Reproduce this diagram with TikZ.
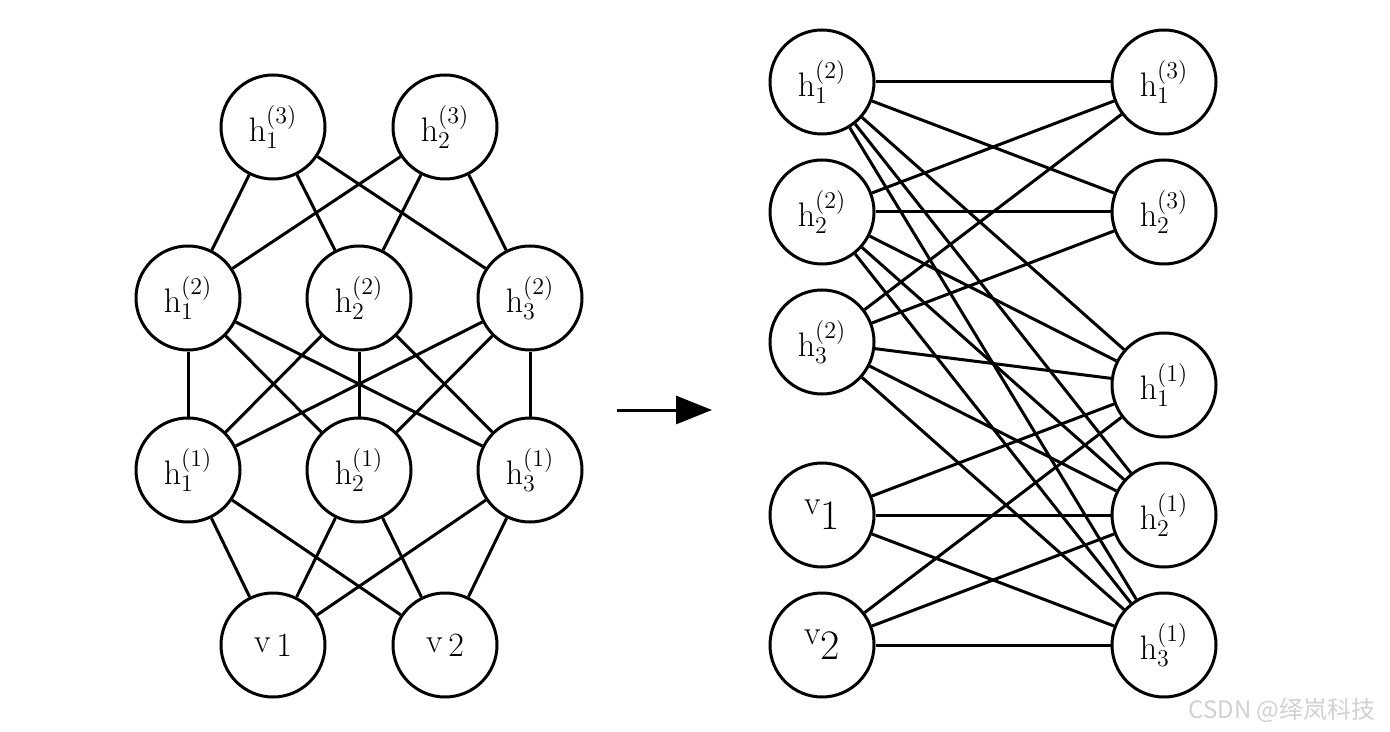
\documentclass[tikz,border=0pt]{standalone}
\usepackage{fontspec}
\usetikzlibrary{arrows.meta}
\newfontfamily\cjkfont{Noto Sans CJK SC}
\begin{document}
\begin{tikzpicture}[x=0.5pt,y=-0.5pt,
  unit/.style={circle,draw=black,line width=1.5pt,minimum size=52pt,inner sep=0pt,font=\fontsize{17}{20}\selectfont},
  edge/.style={line width=1.5pt,black}]
\useasboundingbox (0,0) rectangle (1390,732);
% left graph
\node[unit] (a31) at (273,127) {$\mathrm{h}_1^{(3)}$};
\node[unit] (a32) at (445,127) {$\mathrm{h}_2^{(3)}$};
\node[unit] (a21) at (188,298) {$\mathrm{h}_1^{(2)}$};
\node[unit] (a22) at (359,298) {$\mathrm{h}_2^{(2)}$};
\node[unit] (a23) at (530,298) {$\mathrm{h}_3^{(2)}$};
\node[unit] (a11) at (188,470) {$\mathrm{h}_1^{(1)}$};
\node[unit] (a12) at (359,470) {$\mathrm{h}_2^{(1)}$};
\node[unit] (a13) at (530,470) {$\mathrm{h}_3^{(1)}$};
\node[unit] (av1) at (273,645) {v\,\raisebox{-0.25ex}{1}};
\node[unit] (av2) at (445,645) {v\,\raisebox{-0.25ex}{2}};
\foreach \t in {a31,a32}{\foreach \m in {a21,a22,a23}{\draw[edge] (\t) -- (\m);}}
\foreach \t in {a21,a22,a23}{\foreach \m in {a11,a12,a13}{\draw[edge] (\t) -- (\m);}}
\foreach \t in {a11,a12,a13}{\foreach \m in {av1,av2}{\draw[edge] (\t) -- (\m);}}
% arrow
\coordinate (arS) at (617,410);
\coordinate (arE) at (712,410);
\draw[line width=1.5pt,-{Triangle[length=18pt,width=14pt]}] (arS) -- (arE);
% right graph
\node[unit] (b21) at (822,82) {$\mathrm{h}_1^{(2)}$};
\node[unit] (b22) at (822,212) {$\mathrm{h}_2^{(2)}$};
\node[unit] (b23) at (822,342) {$\mathrm{h}_3^{(2)}$};
\node[unit] (bv1) at (822,515) {\raisebox{0.55ex}{v}\raisebox{-0.45ex}{\fontsize{21}{23}\selectfont 1}};
\node[unit] (bv2) at (822,645) {\raisebox{0.55ex}{v}\raisebox{-0.45ex}{\fontsize{21}{23}\selectfont 2}};
\node[unit] (b31) at (1164,82) {$\mathrm{h}_1^{(3)}$};
\node[unit] (b32) at (1164,212) {$\mathrm{h}_2^{(3)}$};
\node[unit] (b11) at (1164,385) {$\mathrm{h}_1^{(1)}$};
\node[unit] (b12) at (1164,515) {$\mathrm{h}_2^{(1)}$};
\node[unit] (b13) at (1164,645) {$\mathrm{h}_3^{(1)}$};
\foreach \t in {b21,b22,b23}{\foreach \m in {b31,b32,b11,b12,b13}{\draw[edge] (\t) -- (\m);}}
\foreach \t in {bv1,bv2}{\foreach \m in {b11,b12,b13}{\draw[edge] (\t) -- (\m);}}
% watermark
\node[text=black!18,font=\fontsize{12}{14}\selectfont\cjkfont,inner sep=0pt] (wm) at (1282,710) {CSDN @绎岚科技};
\end{tikzpicture}
\end{document}
